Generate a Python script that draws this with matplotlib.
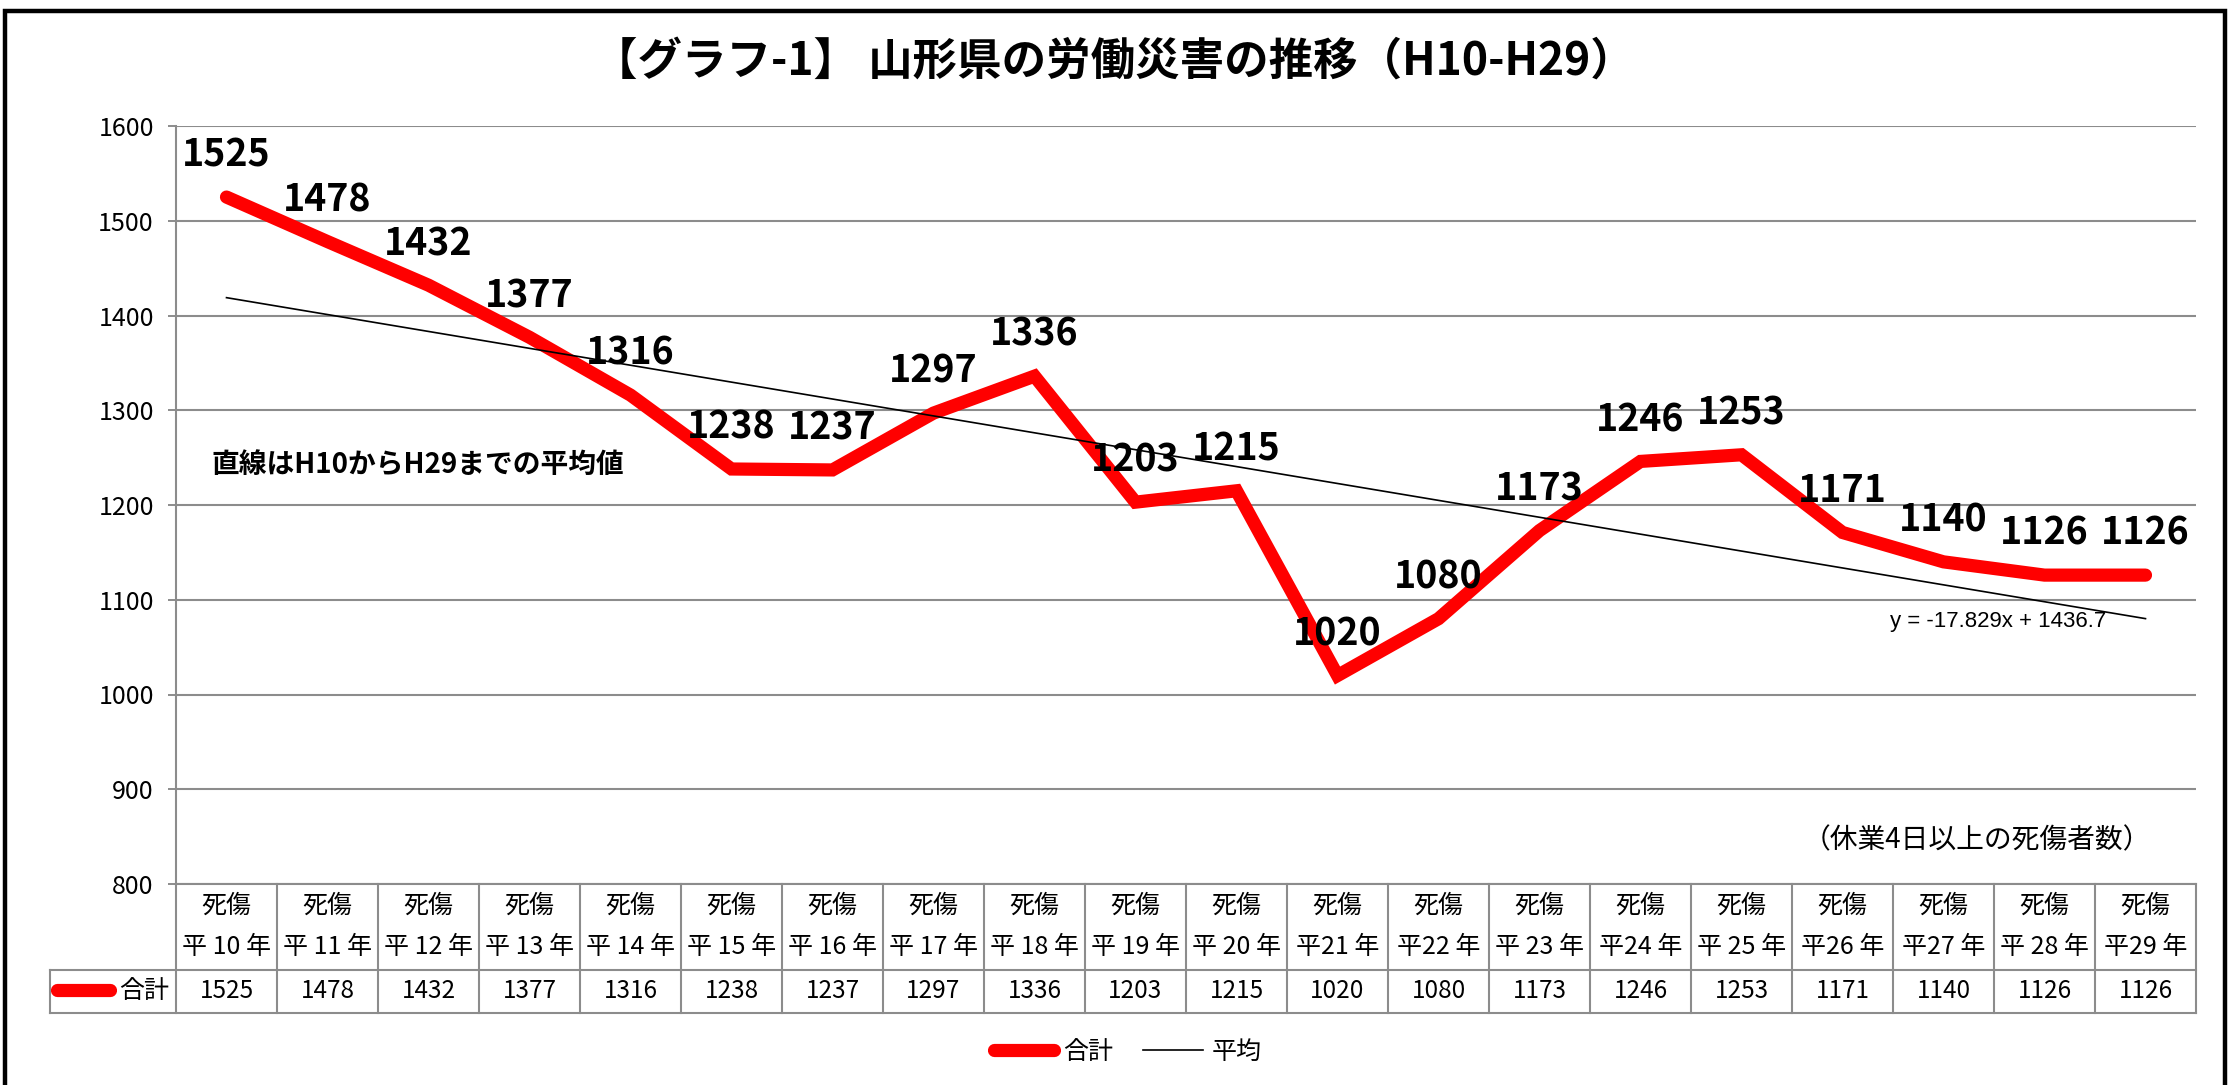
import matplotlib
matplotlib.use('Agg')
import matplotlib.pyplot as plt
import matplotlib.transforms as mtransforms
from matplotlib import font_manager
from matplotlib.lines import Line2D
from matplotlib.patches import Rectangle
import numpy as np

# data
years = ['平 10 年', '平 11 年', '平 12 年', '平 13 年', '平 14 年', '平 15 年',
         '平 16 年', '平 17 年', '平 18 年', '平 19 年', '平 20 年', '平21 年',
         '平22 年', '平 23 年', '平24 年', '平 25 年', '平26 年', '平27 年',
         '平 28 年', '平29 年']
row_head = '死傷'
totals = [1525, 1478, 1432, 1377, 1316, 1238, 1237, 1297, 1336, 1203,
          1215, 1020, 1080, 1173, 1246, 1253, 1171, 1140, 1126, 1126]
yticks = [800, 900, 1000, 1100, 1200, 1300, 1400, 1500, 1600]

JP = ['Noto Sans CJK JP', 'DejaVu Sans']
names = {f.name for f in font_manager.fontManager.ttflist}
NUM = ['Liberation Sans Narrow'] + JP if 'Liberation Sans Narrow' in names else JP
plt.rcParams['font.family'] = JP

RED = '#ff0000'
GRID = '#8c8c8c'

fig = plt.figure(figsize=(22.39, 10.85), dpi=100)
W, H = 2239, 1085
ax_l, ax_r, ax_t, ax_b = 176, 2196, 126, 884
ax = fig.add_axes([ax_l / W, 1 - ax_b / H, (ax_r - ax_l) / W, (ax_b - ax_t) / H])

x = np.arange(len(totals))
ax.set_xlim(-0.5, len(totals) - 0.5)
ax.set_ylim(800, 1600)
ax.set_yticks(yticks)
ax.set_yticklabels([str(t) for t in yticks], family=NUM, fontsize=18)
ax.tick_params(axis='y', length=6, width=1.4, color=GRID, pad=10)
ax.set_xticks([])
ax.grid(axis='y', color=GRID, lw=1.5)
ax.set_axisbelow(True)
for s in ['top', 'right']:
    ax.spines[s].set_visible(False)
for s in ['left', 'bottom']:
    ax.spines[s].set_color(GRID)
    ax.spines[s].set_linewidth(1.5)

# series and linear trend
line_total, = ax.plot(x, totals, color=RED, lw=9.5, solid_capstyle='round',
                      solid_joinstyle='miter', zorder=3)
slope, icpt = np.polyfit(x + 1, totals, 1)
line_avg, = ax.plot(x, icpt + slope * (x + 1), color='black', lw=1.2, zorder=4)

for xi, v in zip(x, totals):
    ax.annotate(str(v), (xi, v), xytext=(0, 30), textcoords='offset points',
                ha='center', va='center', family=NUM, fontsize=27,
                fontweight='bold', zorder=5)

fig.text(1890 / W, 1 - 621 / H, f'y = {slope:.3f}x + {icpt:.1f}',
         fontsize=16, family=['Liberation Sans'] + JP, va='center', ha='left')
fig.text(211 / W, 1 - 466 / H, '直線はH10からH29までの平均値',
         fontsize=20, fontweight='bold', va='center', ha='left')

# data table under the axis
tr = mtransforms.blended_transform_factory(ax.transData, ax.transAxes)
ah = ax_b - ax_t
r1 = -(970 - ax_b) / ah
r2 = -(1013 - ax_b) / ah
left_col = (50 - ax_l) / (ax_r - ax_l)
lk = dict(color=GRID, lw=1.5, clip_on=False)
for k in range(len(totals) + 1):
    ax.plot([k - 0.5, k - 0.5], [0, r2], transform=tr, **lk)
ax.plot([left_col, 1], [r1, r1], transform=ax.transAxes, **lk)
ax.plot([left_col, 1], [r2, r2], transform=ax.transAxes, **lk)
ax.plot([left_col, left_col], [r1, r2], transform=ax.transAxes, **lk)

for xi, lab, v in zip(x, years, totals):
    ax.text(xi, -(906 - ax_b) / ah, row_head, transform=tr, ha='center',
            va='center', fontsize=18)
    ax.text(xi, -(947 - ax_b) / ah, lab, transform=tr, ha='center',
            va='center', fontsize=18)
    ax.text(xi, -(991 - ax_b) / ah, str(v), transform=tr, ha='center',
            va='center', fontsize=17.5, family=NUM)

ax.plot([(57 - ax_l) / (ax_r - ax_l), (110 - ax_l) / (ax_r - ax_l)],
        [-(990 - ax_b) / ah] * 2, transform=ax.transAxes, color=RED, lw=9.5,
        solid_capstyle='round', clip_on=False)
ax.text((119 - ax_l) / (ax_r - ax_l), -(991 - ax_b) / ah, '合計',
        transform=ax.transAxes, ha='left', va='center', fontsize=18)

# notes, title, legend, frame
fig.text(1803 / W, 1 - 840 / H, '（休業4日以上の死傷者数）', fontsize=20,
         ha='left', va='center')
fig.text(1114 / W, 1 - 62 / H, '【グラフ-1】 山形県の労働災害の推移（H10-H29）',
         fontsize=32, fontweight='bold', ha='center', va='center')

handles = [Line2D([], [], color=RED, lw=9.5, solid_capstyle='round'),
           Line2D([], [], color='black', lw=1.2)]
fig.legend(handles, ['合計', '平均'], loc='center',
           bbox_to_anchor=(1128 / W, 1 - 1052 / H), ncol=2, frameon=False,
           fontsize=18, handlelength=2.4, handletextpad=0.35, columnspacing=1.2)

fig.patches.append(Rectangle((5 / W, -0.05), (2225 - 5) / W, 1.05 - 11 / H,
                             transform=fig.transFigure, fill=False,
                             edgecolor='black', lw=3.2))

fig.savefig('out.png', dpi=100, facecolor='white')
